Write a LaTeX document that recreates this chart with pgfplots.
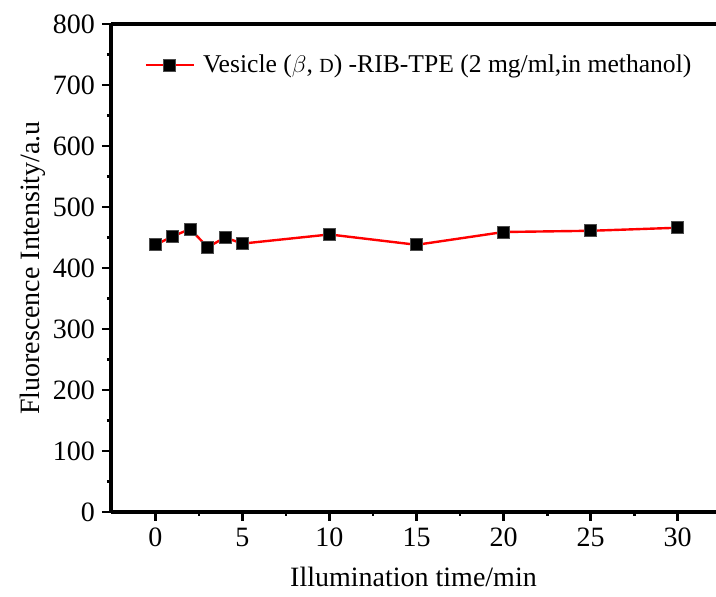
\documentclass[border=0pt]{standalone}
\usepackage{pgfplots}
\pgfplotsset{compat=1.18}
\usepackage{fontspec}
\setmainfont{Liberation Serif}
\begin{document}
\begin{tikzpicture}
\useasboundingbox (-55.5pt,-42.5pt) rectangle (302.5pt,256pt);
\begin{axis}[
  at={(0pt,0pt)}, anchor=south west,
  scale only axis,
  width=302.5pt, height=244pt,
  xmin=-2.55, xmax=32.2,
  ymin=0, ymax=800,
  axis x line*=box, axis y line*=left,
  xtick={0,5,...,30}, ytick={0,100,...,800},
  minor x tick num=1, minor y tick num=1,
  xtick pos=bottom, ytick pos=left,
  tick align=outside,
  major tick length=4.5pt, minor tick length=2pt,
  every tick/.style={black, line width=1.4pt},
  axis line style={line width=1.6pt},
  tick label style={font=\fontsize{14}{16}\selectfont},
  /pgf/number format/assume math mode=true,
  xlabel={Illumination time/min},
  ylabel={Fluorescence Intensity/a.u},
  label style={font=\fontsize{14}{16}\selectfont},
  xlabel style={yshift=-3pt},
  ylabel style={yshift=-3pt},
  legend style={draw=none, fill=none, at={(0.055,0.916)}, anchor=west,
    font=\fontsize{12.8}{15}\selectfont, inner sep=0pt,
    /tikz/every even column/.append style={column sep=0pt}},
  legend cell align=left,
  legend image code/.code={
    \draw[#1] (0pt,0pt) -- (24pt,0pt);
    \draw[#1, only marks] plot coordinates {(12pt,0pt)};
  },
  legend style={nodes={inner xsep=4pt}},
]
\addplot[red, line width=1.2pt, mark=square*, mark size=3pt,
  mark options={fill=black, draw=black!70, line width=0.4pt, solid}]
  coordinates {
  (0,438) (1,452) (2,464) (3,434) (4,450) (5,440)
  (10,455) (15,438) (20,459) (25,461) (30,466)
};
\addlegendentry{Vesicle ($\beta$, {\fontsize{10}{12}\selectfont D}) -RIB-TPE (2 mg/ml,in methanol)}
\end{axis}
\end{tikzpicture}
\end{document}
